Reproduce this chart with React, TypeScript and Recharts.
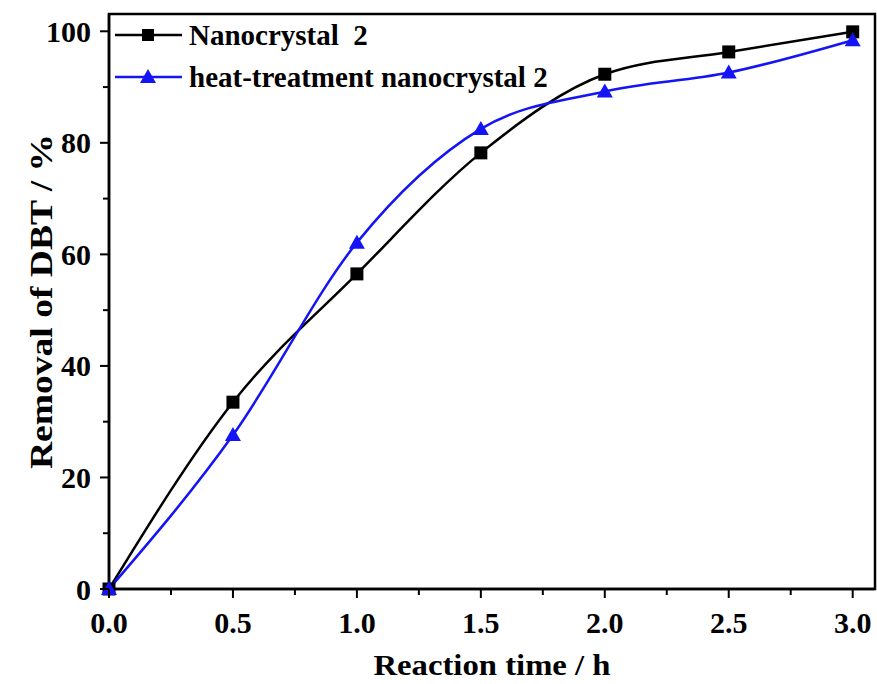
import {
  ComposedChart,
  Line,
  XAxis,
  YAxis,
  ReferenceArea,
  Label
} from "recharts"

const times = [0, 0.5, 1.0, 1.5, 2.0, 2.5, 3.0]
const nanocrystal = [0, 33.5, 56.5, 78.2, 92.3, 96.3, 99.9]
const heatTreated = [0, 27.6, 62.1, 82.5, 89.2, 92.6, 98.4]

const xTicks = [0, 0.25, 0.5, 0.75, 1.0, 1.25, 1.5, 1.75, 2.0, 2.25, 2.5, 2.75, 3.0]
const yTicks = [0, 10, 20, 30, 40, 50, 60, 70, 80, 90, 100]

const seriesNames = ["Nanocrystal  2", "heat-treatment nanocrystal 2"]

const data = times.map((t, i) => ({ t, a: nanocrystal[i], b: heatTreated[i] }))

const FONT = "'Liberation Serif', 'Times New Roman', serif"
const BLUE = "#1414f5"

function XTick(props: any) {
  const { x, y, payload } = props
  const v = payload.value
  const major = Math.abs(v * 2 - Math.round(v * 2)) < 1e-6
  return (
    <g>
      <line x1={x} x2={x} y1={y} y2={y + (major ? 9 : 6)} stroke="#000" strokeWidth={2} />
      {major && (
        <text x={x} y={y + 44} textAnchor="middle" fontFamily={FONT} fontWeight="bold" fontSize={30} fill="#000">
          {v.toFixed(1)}
        </text>
      )}
    </g>
  )
}

function YTick(props: any) {
  const { x, y, payload } = props
  const v = payload.value
  const major = v % 20 === 0
  return (
    <g>
      <line x1={x} x2={x - (major ? 9 : 6)} y1={y} y2={y} stroke="#000" strokeWidth={2} />
      {major && (
        <text x={x - 18} y={y} dy={10.5} textAnchor="end" fontFamily={FONT} fontWeight="bold" fontSize={30} fill="#000">
          {v}
        </text>
      )}
    </g>
  )
}

function Square(props: any) {
  const { cx, cy } = props
  if (cx == null || cy == null) return <g />
  return <rect x={cx - 6.5} y={cy - 6.5} width={13} height={13} fill="#000" />
}

function Triangle(props: any) {
  const { cx, cy } = props
  if (cx == null || cy == null) return <g />
  return <path d={`M${cx},${cy - 8} L${cx + 8},${cy + 6} L${cx - 8},${cy + 6} Z`} fill={BLUE} />
}

function LegendBox() {
  const rows = [
    { color: "#000", marker: <rect x={28} y={4} width={12} height={12} fill="#000" /> },
    { color: BLUE, marker: <path d="M34,2 L42,16 L26,16 Z" fill={BLUE} /> }
  ]
  return (
    <div
      style={{
        position: "absolute",
        left: 114,
        top: 14,
        fontFamily: FONT,
        fontWeight: "bold",
        fontSize: 29,
        color: "#000",
        whiteSpace: "pre",
        pointerEvents: "none"
      }}
    >
      {rows.map((r, i) => (
        <div key={i} style={{ display: "flex", alignItems: "center", height: 42 }}>
          <svg width={69} height={20} style={{ marginRight: 6 }}>
            <line x1={1} x2={68} y1={10} y2={10} stroke={r.color} strokeWidth={2.5} />
            {r.marker}
          </svg>
          <span>{seriesNames[i]}</span>
        </div>
      ))}
    </div>
  )
}

export default function App() {
  return (
    <div style={{ position: "absolute", left: 0, top: 0, width: 877, height: 684, background: "#fff" }}>
      <ComposedChart
        width={877}
        height={684}
        data={data}
        margin={{ top: 14, right: 2, bottom: 0, left: 0 }}
      >
        <XAxis
          dataKey="t"
          type="number"
          domain={[0, 3.09]}
          ticks={xTicks}
          interval={0}
          tickSize={0}
          tickMargin={0}
          tick={<XTick />}
          axisLine={{ stroke: "#000", strokeWidth: 2.5 }}
          height={95}
        >
          <Label
            content={(p: any) => {
              const vb = p.viewBox
              return (
                <text
                  x={vb.x + vb.width / 2}
                  y={675}
                  textAnchor="middle"
                  fontFamily={FONT}
                  fontWeight="bold"
                  fontSize={30}
                  textLength={237}
                  lengthAdjust="spacingAndGlyphs"
                  fill="#000"
                >
                  Reaction time / h
                </text>
              )
            }}
          />
        </XAxis>
        <YAxis
          type="number"
          domain={[0, 103.1]}
          ticks={yTicks}
          interval={0}
          tickSize={0}
          tickMargin={0}
          tick={<YTick />}
          axisLine={{ stroke: "#000", strokeWidth: 2.5 }}
          width={109}
        >
          <Label
            content={(p: any) => {
              const vb = p.viewBox
              const cy = vb.y + vb.height / 2
              return (
                <text
                  x={52}
                  y={cy}
                  transform={`rotate(-90, 52, ${cy})`}
                  textAnchor="middle"
                  fontFamily={FONT}
                  fontWeight="bold"
                  fontSize={32}
                  textLength={335}
                  lengthAdjust="spacingAndGlyphs"
                  fill="#000"
                >
                  Removal of DBT / %
                </text>
              )
            }}
          />
        </YAxis>
        <ReferenceArea
          x1={0}
          x2={3.09}
          y1={0}
          y2={103.1}
          fill="none"
          stroke="#000"
          strokeWidth={2.5}
          ifOverflow="visible"
        />
        <Line
          dataKey="a"
          type="monotone"
          stroke="#000"
          strokeWidth={2.5}
          dot={<Square />}
          activeDot={false}
          isAnimationActive={false}
        />
        <Line
          dataKey="b"
          type="monotone"
          stroke={BLUE}
          strokeWidth={2.5}
          dot={<Triangle />}
          activeDot={false}
          isAnimationActive={false}
        />
      </ComposedChart>
      <LegendBox />
    </div>
  )
}
